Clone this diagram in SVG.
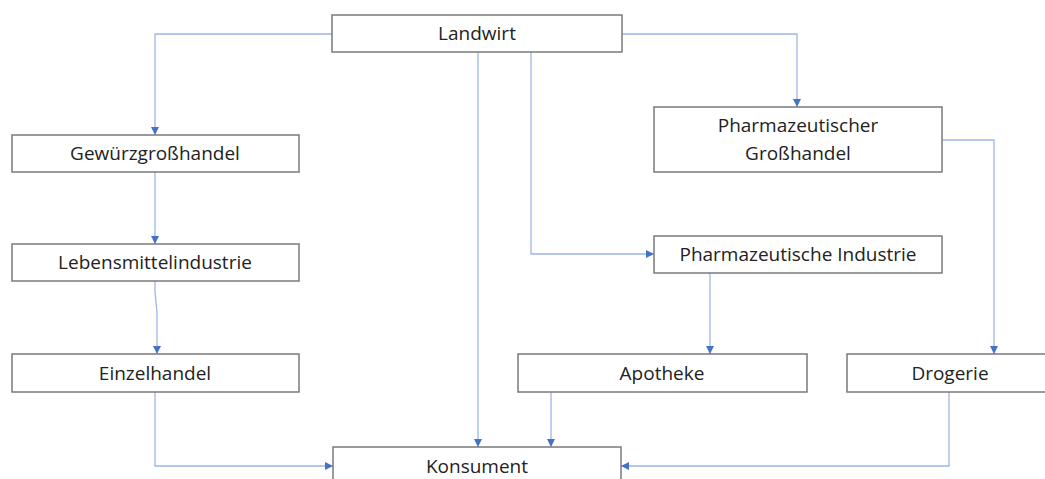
<svg xmlns="http://www.w3.org/2000/svg" width="1045" height="479" viewBox="0 0 1045 479">
<style>
.box{fill:#fff;stroke:#7a7a7a;stroke-width:1.5}
.lbl{font-family:"Open Sans","Liberation Sans",sans-serif;font-size:19px;fill:#222;text-anchor:middle}
.c{fill:none;stroke:#9db6e4;stroke-width:1.3;marker-end:url(#ah)}
</style>
<defs>
<marker id="ah" viewBox="0 0 10 10" refX="10" refY="5" markerWidth="8" markerHeight="8" markerUnits="userSpaceOnUse" orient="auto">
<path d="M0,0 L10,5 L0,10 z" fill="#4472c4"/>
</marker>
</defs>
<rect width="1045" height="479" fill="#fff"/>
<g id="connectors">
<path class="c" d="M332,34 H155 V135"/>
<path class="c" d="M155,172 V244"/>
<path class="c" d="M155,281 V292 L157,312 V354"/>
<path class="c" d="M155,392 V466 H333"/>
<path class="c" d="M478,52 V447"/>
<path class="c" d="M531,52 V254 H654"/>
<path class="c" d="M622,34 H797 V107"/>
<path class="c" d="M942,140 H994 V354"/>
<path class="c" d="M710,273 V354"/>
<path class="c" d="M551,392 V447"/>
<path class="c" d="M949,392 V466 H621"/>
</g>
<g id="landwirt"><rect class="box" x="332" y="15" width="290" height="37"/><text class="lbl" x="477" y="40">Landwirt</text></g>
<g id="gewuerz"><rect class="box" x="12" y="135" width="287" height="37"/><text class="lbl" x="155" y="160">Gewürzgroßhandel</text></g>
<g id="lebensmittel"><rect class="box" x="12" y="244" width="287" height="37"/><text class="lbl" x="155" y="269">Lebensmittelindustrie</text></g>
<g id="einzelhandel"><rect class="box" x="12" y="354" width="287" height="38"/><text class="lbl" x="155" y="380">Einzelhandel</text></g>
<g id="pharmgross"><rect class="box" x="654" y="107" width="288" height="65"/><text class="lbl" x="798" y="132">Pharmazeutischer</text><text class="lbl" x="798" y="160">Großhandel</text></g>
<g id="pharmind"><rect class="box" x="654" y="236" width="288" height="37"/><text class="lbl" x="798" y="261">Pharmazeutische Industrie</text></g>
<g id="apotheke"><rect class="box" x="518" y="354" width="289" height="38"/><text class="lbl" x="662" y="380">Apotheke</text></g>
<g id="drogerie"><rect class="box" x="847" y="354" width="210" height="38"/><text class="lbl" x="950" y="380">Drogerie</text></g>
<g id="konsument"><rect class="box" x="333" y="447" width="288" height="40"/><text class="lbl" x="477" y="473">Konsument</text></g>
</svg>
